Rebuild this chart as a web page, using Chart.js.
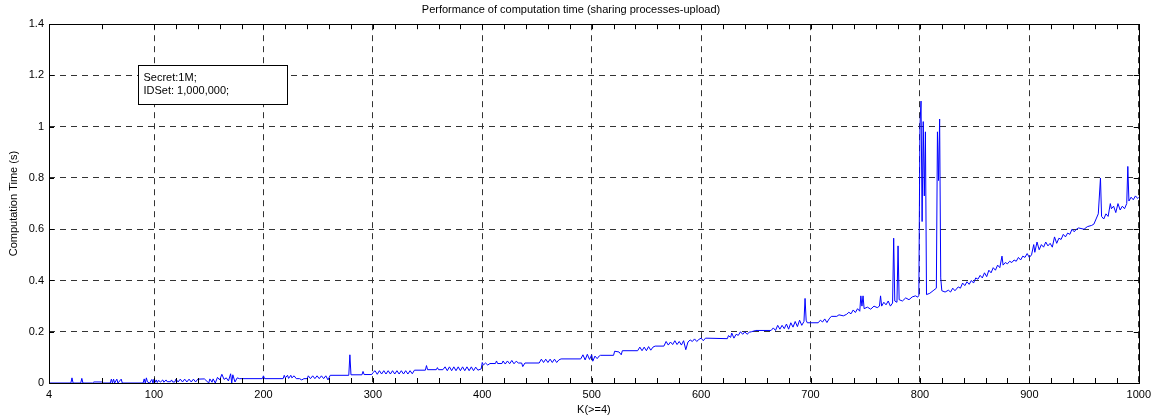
<!DOCTYPE html>
<html>
<head>
<meta charset="utf-8">
<script src="https://cdn.jsdelivr.net/npm/chart.js@4.4.1/dist/chart.umd.min.js"></script>
<style>
  html, body { margin: 0; padding: 0; background: #fff; }
  #wrap { width: 1156px; height: 419px; }
</style>
</head>
<body>
<div id="wrap"><canvas id="grafico"></canvas></div>
<script>
// K values (x), segment by segment
const kValues = [
    4, 24, 25, 26, 33, 34, 35, 44, 45, 52, 53, 60, 61, 62, 63, 64, 66, 67, 70, 71, 90, 91, 92, 93, 94, 96, 98, 99,
    100, 101, 102, 103, 104, 106, 108, 109, 111, 112, 115, 116, 117, 119, 120, 122, 124, 126, 128, 130, 132, 134, 136, 138, 140, 146, 150, 151, 153, 154, 156, 158, 160, 162, 164, 166, 168, 170, 171, 172, 174, 176, 178, 199, 200, 201,
    218, 219, 220, 222, 223, 225, 226, 228, 230, 233, 235, 237, 240, 241, 243, 245, 247, 249, 251, 253, 255, 257, 259, 261, 278, 279, 280, 290, 291, 292, 299,
    300, 302, 304, 306, 308, 310, 312, 314, 316, 318, 320, 322, 324, 326, 328, 330, 332, 334, 336, 338, 348, 349, 350, 358, 359, 360, 364, 366, 368, 370, 372, 374, 376, 378, 380, 382, 384, 386, 388, 390, 392, 394, 396, 399,
    400, 401, 403, 405, 407, 412, 413, 414, 418, 419, 421, 423, 425, 427, 429, 431, 433, 436, 437, 439, 452, 454, 456, 458, 460, 462, 464, 466, 468, 470, 472, 490, 492, 494, 496, 498, 500,
    501, 503, 505, 507, 508, 520, 521, 525, 527, 528, 542, 544, 546, 548, 550, 552, 554, 556, 558, 566, 568, 570, 572, 574, 576, 578, 580, 582, 584, 586, 588, 590, 592, 594, 596, 598,
    600, 602, 604, 624, 625, 627, 628, 630, 632, 634, 636, 638, 640, 642, 644, 646, 650, 664, 666, 668, 670, 672, 674, 676, 678, 680, 682, 684, 686, 688, 690, 692, 694, 695, 696, 697,
    707, 709, 711, 713, 715, 717, 719, 724, 726, 730, 733, 735, 737, 739, 741, 743, 745, 746, 747, 748, 749, 752, 755, 758, 761, 763, 764, 765, 767, 769, 771, 773, 775, 776, 777, 779, 780, 781, 784, 787, 790, 793, 796, 798, 799,
    800, 801, 802, 803, 804, 805, 806, 809, 812, 815, 816, 817, 818, 819, 820, 823, 826, 828, 830, 832, 835, 837, 839, 841, 843, 845, 847, 849, 851, 853, 855, 857, 859, 861, 863, 865, 867, 869, 871, 873, 875, 876, 878, 880, 882, 884, 886, 888, 890, 892, 894, 896, 898,
    900, 902, 904, 905, 907, 909, 911, 913, 915, 917, 919, 921, 923, 925, 927, 929, 931, 933, 935, 937, 939, 941, 943, 945, 950, 953, 957, 959, 961, 963, 965, 966, 968, 970, 972, 974, 975, 977, 979, 981, 983, 985, 987, 989, 990, 991, 993, 995, 997, 999, 1000
];

// computation time (s), same order as kValues
const timeValues = [
    0, 0, 0.02, 0, 0, 0.018, 0, 0, 0.004, 0.004, 0, 0, 0.015, 0, 0.015, 0, 0.015, 0, 0.015, 0, 0, 0.016, 0, 0.02, 0.004, 0, 0.014, 0,
    0.015, 0.003, 0.012, 0.002, 0.01, 0.004, 0.012, 0.003, 0.012, 0.005, 0.005, 0.012, 0.004, 0.004, 0.015, 0.004, 0.015, 0.004, 0.015, 0.004, 0.015, 0.004, 0.015, 0.004, 0.015, 0.016, 0, 0.016, 0.003, 0.016, 0, 0.022, 0.012, 0.034, 0.014, 0.02, 0.008, 0.036, 0, 0.032, 0.004, 0.02, 0.017, 0.017, 0.028, 0.017,
    0.017, 0.03, 0.02, 0.03, 0.018, 0.03, 0.02, 0.028, 0.017, 0.017, 0.012, 0.017, 0.017, 0.028, 0.017, 0.028, 0.017, 0.028, 0.017, 0.028, 0.017, 0.028, 0.012, 0.03, 0.03, 0.11, 0.032, 0.032, 0.045, 0.033, 0.033,
    0.04, 0.048, 0.034, 0.048, 0.035, 0.048, 0.035, 0.048, 0.035, 0.048, 0.035, 0.048, 0.035, 0.048, 0.035, 0.048, 0.035, 0.048, 0.036, 0.05, 0.05, 0.068, 0.052, 0.052, 0.06, 0.052, 0.052, 0.063, 0.048, 0.063, 0.048, 0.063, 0.048, 0.063, 0.048, 0.063, 0.048, 0.063, 0.048, 0.063, 0.048, 0.062, 0.05, 0.055,
    0.08, 0.07, 0.078, 0.07, 0.076, 0.076, 0.086, 0.076, 0.076, 0.086, 0.074, 0.086, 0.075, 0.088, 0.075, 0.085, 0.078, 0.078, 0.064, 0.078, 0.078, 0.093, 0.08, 0.093, 0.08, 0.093, 0.08, 0.093, 0.08, 0.09, 0.094, 0.094, 0.11, 0.09, 0.112, 0.092, 0.11,
    0.085, 0.105, 0.095, 0.106, 0.108, 0.108, 0.124, 0.121, 0.11, 0.126, 0.126, 0.14, 0.126, 0.14, 0.126, 0.142, 0.128, 0.14, 0.144, 0.144, 0.162, 0.148, 0.16, 0.15, 0.165, 0.15, 0.162, 0.148, 0.165, 0.13, 0.16, 0.168, 0.162, 0.172, 0.162, 0.17,
    0.175, 0.165, 0.175, 0.173, 0.185, 0.178, 0.195, 0.175, 0.19, 0.186, 0.2, 0.19, 0.2, 0.19, 0.198, 0.2, 0.205, 0.205, 0.215, 0.205, 0.225, 0.21, 0.225, 0.212, 0.23, 0.21, 0.235, 0.218, 0.24, 0.22, 0.245, 0.225, 0.24, 0.33, 0.245, 0.235,
    0.235, 0.245, 0.238, 0.25, 0.236, 0.25, 0.26, 0.26, 0.266, 0.262, 0.268, 0.276, 0.27, 0.285, 0.275, 0.29, 0.28, 0.34, 0.3, 0.34, 0.29, 0.296, 0.288, 0.3, 0.294, 0.3, 0.34, 0.3, 0.315, 0.305, 0.32, 0.3, 0.312, 0.565, 0.32, 0.315, 0.535, 0.325, 0.32, 0.332, 0.325, 0.336, 0.34, 0.335, 0.342,
    1.0, 1.1, 0.63, 1.02, 0.73, 0.98, 0.345, 0.35, 0.36, 0.37, 0.98, 0.79, 1.03, 0.41, 0.36, 0.355, 0.362, 0.355, 0.37, 0.36, 0.375, 0.37, 0.39, 0.38, 0.395, 0.385, 0.4, 0.39, 0.41, 0.405, 0.42, 0.41, 0.43, 0.415, 0.44, 0.43, 0.45, 0.44, 0.46, 0.45, 0.495, 0.46, 0.47, 0.465, 0.475, 0.47, 0.48, 0.475, 0.49, 0.48, 0.495, 0.49, 0.505,
    0.49, 0.5, 0.54, 0.51, 0.55, 0.52, 0.54, 0.53, 0.55, 0.535, 0.545, 0.53, 0.57, 0.545, 0.565, 0.56, 0.58, 0.57, 0.585, 0.58, 0.6, 0.59, 0.6, 0.605, 0.6, 0.61, 0.615, 0.62, 0.64, 0.66, 0.8, 0.65, 0.64, 0.66, 0.65, 0.7, 0.68, 0.69, 0.665, 0.7, 0.675, 0.69, 0.68, 0.7, 0.845, 0.71, 0.725, 0.715, 0.73, 0.72, 0.725
];

const xTicks = [4, 100, 200, 300, 400, 500, 600, 700, 800, 900, 1000];
const yTicks = [0, 0.2, 0.4, 0.6, 0.8, 1, 1.2, 1.4];
// small ticks on the x axis (MATLAB style)
const xMinorTicks = [52, 120, 140, 160, 180, 220, 240, 260, 280, 320, 340, 360, 380, 420, 440, 460, 480,
    520, 540, 560, 580, 620, 640, 660, 680, 720, 740, 760, 780, 820, 840, 860, 880, 920, 940, 960, 980];
const infoLines = ["Secret:1M;", "IDSet: 1,000,000;"];

const fonte = "Arial, 'Liberation Sans', Helvetica, sans-serif";

// caixa dos eixos, ticks internos e a caixa de texto
const moldura = {
    id: 'moldura',
    afterDraw(chart) {
        const { ctx, chartArea: a, scales } = chart;
        ctx.save();
        ctx.strokeStyle = '#000';
        ctx.lineWidth = 1;
        ctx.beginPath();
        const tick = (x1, y1, x2, y2) => { ctx.moveTo(x1, y1); ctx.lineTo(x2, y2); };
        xTicks.concat(xMinorTicks).forEach(v => {
            const x = Math.round(scales.x.getPixelForValue(v)) + 0.5;
            tick(x, a.bottom, x, a.bottom - 5);
            tick(x, a.top, x, a.top + 5);
        });
        yTicks.forEach(v => {
            const y = Math.round(scales.y.getPixelForValue(v)) + 0.5;
            tick(a.left, y, a.left + 5, y);
            tick(a.right, y, a.right - 5, y);
        });
        ctx.stroke();
        ctx.strokeRect(Math.round(a.left) + 0.5, Math.round(a.top) + 0.5,
            Math.round(a.right - a.left), Math.round(a.bottom - a.top));

        // caixa "Secret / IDSet"
        const bx = Math.round(a.left + 89) + 0.5, by = Math.round(a.top + 41) + 0.5;
        ctx.fillStyle = '#fff';
        ctx.fillRect(bx, by, 149, 39);
        ctx.strokeRect(bx, by, 149, 39);
        ctx.fillStyle = '#000';
        ctx.font = "11px " + fonte;
        ctx.textBaseline = 'middle';
        infoLines.forEach((t, i) => ctx.fillText(t, bx + 5, by + 12 + i * 13));
        ctx.restore();
    }
};

const ctxGrafico = document.getElementById('grafico').getContext('2d');
new Chart(ctxGrafico, {
    type: 'line',
    data: {
        datasets: [{
            label: 'Computation Time',
            data: kValues.map((k, i) => ({ x: k, y: timeValues[i] })),
            borderColor: '#0000ff',
            borderWidth: 1,
            pointRadius: 0,
            tension: 0,
            fill: false
        }]
    },
    options: {
        responsive: true,
        maintainAspectRatio: false,
        animation: false,
        layout: { padding: { left: 0, right: 14, top: 0, bottom: 0 } },
        plugins: {
            legend: { display: false },
            tooltip: { enabled: false },
            title: {
                display: true,
                text: 'Performance of computation time (sharing processes-upload)',
                color: '#000',
                font: { family: fonte, size: 11, weight: 'normal' },
                padding: { top: 3, bottom: 8 }
            }
        },
        scales: {
            x: {
                type: 'linear',
                min: 4,
                max: 1000,
                afterBuildTicks: s => { s.ticks = xTicks.map(v => ({ value: v })); },
                afterFit: s => { s.height = 36; },
                ticks: { color: '#000', font: { family: fonte, size: 11 }, autoSkip: false, maxRotation: 0, padding: 5, callback: v => String(v) },
                grid: { color: '#333', drawTicks: false },
                border: { display: false, dash: [6, 5] },
                title: { display: true, text: 'K(>=4)', color: '#000', font: { family: fonte, size: 11 }, padding: { top: 0, bottom: 2 } }
            },
            y: {
                min: 0,
                max: 1.4,
                afterBuildTicks: s => { s.ticks = yTicks.map(v => ({ value: v })); },
                afterFit: s => { s.width = 49; },
                ticks: { color: '#000', font: { family: fonte, size: 11 }, padding: 5, callback: v => String(Math.round(v * 10) / 10) },
                grid: { color: '#333', drawTicks: false },
                border: { display: false, dash: [6, 5] },
                title: { display: true, text: 'Computation Time (s)', color: '#000', font: { family: fonte, size: 11 }, padding: { top: 7, bottom: 0 } }
            }
        }
    },
    plugins: [moldura]
});
</script>
</body>
</html>
